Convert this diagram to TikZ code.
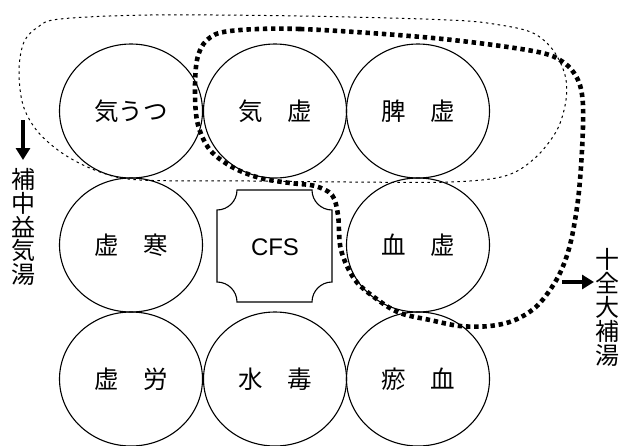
\documentclass[tikz,border=0pt]{standalone}
\usepackage{fontspec}
\setmainfont{Liberation Sans}
\newfontfamily\cjk{Noto Sans CJK JP}
\usetikzlibrary{shapes.geometric,arrows.meta}
\tikzset{
  circ/.style={draw, ellipse, line width=1.1pt, minimum width=143pt, minimum height=134pt, inner sep=0pt,
    font=\cjk\fontsize{24.5}{25}\selectfont},
  thindash/.style={line width=1pt, dash pattern=on 2.5pt off 3.5pt},
  thickdot/.style={line width=4.6pt, dash pattern=on 4.4pt off 3.8pt},
  arr/.style={line width=3.2pt, -{Triangle[length=12pt,width=14pt]}},
  vtext/.style={align=center, inner sep=0pt, font=\cjk\fontsize{24}{23.6}\selectfont},
  cfsbox/.style={line width=1.1pt}
}
\begin{document}
\begin{tikzpicture}[x=1pt,y=-1pt]
\useasboundingbox (0,0) rectangle (619,445);
% circles
\node[circ] (c11) at (131,111) {気うつ};
\node[circ] (c12) at (275,111) {気　虚};
\node[circ] (c13) at (418,111) {脾　虚};
\node[circ] (c21) at (131,245) {虚　寒};
\node[circ] (c23) at (418,245) {血　虚};
\node[circ] (c31) at (131,379) {虚　労};
\node[circ] (c32) at (275,379) {水　毒};
\node[circ] (c33) at (418,379) {瘀　血};
% CFS box
\draw[cfsbox] (237,190) -- (312,190)
  .. controls (312,201) and (321,210) .. (332,210) -- (332,282)
  .. controls (321,282) and (312,291) .. (312,302) -- (237,302)
  .. controls (237,291) and (228,282) .. (217,282) -- (217,210)
  .. controls (228,210) and (237,201) .. (237,190) -- cycle;
\node[inner sep=0pt, font=\fontsize{24}{24}\selectfont] (cfs) at (275,247) {CFS};
% thin dashed outline
\draw[thindash] plot[smooth cycle, tension=0.55] coordinates {
 (60,19) (150,15) (300,16) (450,20) (500,25) (533,33) (553,50) (565,75) (566,100)
 (557,130) (535,158) (505,176) (450,182) (350,182) (250,181) (140,180) (100,172)
 (65,155) (38,132) (23,105) (19,70) (24,42) (38,27)};
% thick dotted outline
\draw[thickdot] plot[smooth cycle, tension=0.55] coordinates {
 (230,31) (300,29) (433,38) (533,51) (563,62) (578,80) (583,105) (582,150) (578,200)
 (570,245) (558,277) (538,305) (515,320) (490,326) (460,326) (430,320) (400,313)
 (378,300) (355,280) (341,250) (338,215) (332,195) (315,186) (290,183) (260,178)
 (232,167) (210,150) (198,125) (195,95) (197,60) (207,40)};
% arrows and labels
\coordinate (la1) at (23,120);
\coordinate (la2) at (23,160);
\draw[arr] (la1) -- (la2);
\node[vtext] (lt) at (24,227) {補\\中\\益\\気\\湯};
\coordinate (ra1) at (562,282);
\coordinate (ra2) at (594,282);
\draw[arr] (ra1) -- (ra2);
\node[vtext, font=\cjk\fontsize{24}{24}\selectfont] (rt) at (607,307) {十\\全\\大\\補\\湯};
\end{tikzpicture}
\end{document}
